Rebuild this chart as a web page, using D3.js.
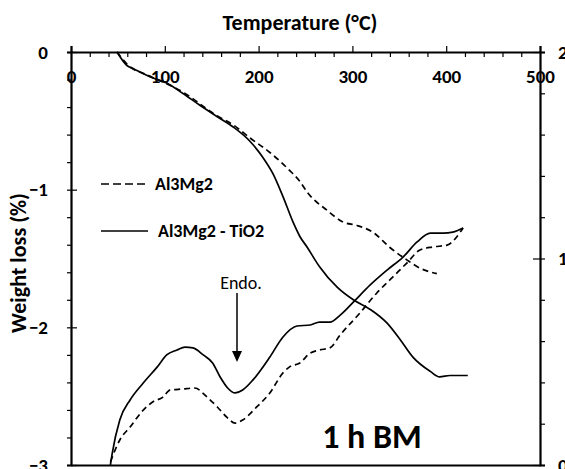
<!DOCTYPE html>
<html>
<head>
<meta charset="utf-8">
<script src="https://cdn.jsdelivr.net/npm/d3@7"></script>
<style>
  body { margin: 0; background: #fff; }
  svg text { font-family: Carlito, Calibri, Lato, sans-serif; fill: #000; }
</style>
</head>
<body>
<div id="chart_svg"></div>
<script>
// temperature (°C) and weight loss (%) - left axis
var tgTempTiO2 = [49, 60, 66, 84, 102, 119, 137, 156, 173, 191, 205, 215, 226, 237, 244, 252, 262, 265, 284, 301, 319, 337, 351, 365, 383, 393, 404, 423]
var tgTiO2 = [0, -0.10, -0.12, -0.18, -0.225, -0.30, -0.385, -0.47, -0.545, -0.65, -0.77, -0.88, -1.05, -1.24, -1.34, -1.42, -1.53, -1.56, -1.71, -1.80, -1.87, -1.97, -2.09, -2.22, -2.32, -2.36, -2.35, -2.35]

var tgTempPure = [49, 60, 84, 119, 156, 173, 191, 212, 233, 244, 252, 273, 290, 305, 322, 340, 358, 372, 390]
var tgPure = [0, -0.09, -0.175, -0.29, -0.465, -0.53, -0.625, -0.73, -0.86, -0.94, -1.02, -1.15, -1.235, -1.26, -1.31, -1.42, -1.51, -1.57, -1.61]

// DSC signal (a.u.) - right axis
var dscTempTiO2 = [42, 44, 52, 63, 77, 92, 102, 113, 121.5, 130, 141, 151, 159, 167, 175, 183, 194, 212, 226, 241, 255, 265, 276, 287, 301, 319, 337, 354, 369, 383, 397, 407, 418]
var dscTiO2 = [0, 0.058, 0.218, 0.315, 0.397, 0.475, 0.533, 0.557, 0.571, 0.567, 0.533, 0.494, 0.426, 0.373, 0.349, 0.363, 0.412, 0.523, 0.62, 0.673, 0.678, 0.692, 0.692, 0.726, 0.789, 0.872, 0.944, 1.007, 1.08, 1.123, 1.123, 1.128, 1.148]

var dscTempPure = [42, 52, 63, 77, 87, 98, 105.5, 119, 132, 145, 156, 166, 175, 183, 198, 212, 226, 233, 244, 255, 265, 276, 287, 308, 326, 343, 358, 372, 386, 401, 415, 418]
var dscPure = [0.015, 0.121, 0.184, 0.266, 0.305, 0.329, 0.363, 0.368, 0.373, 0.329, 0.281, 0.232, 0.203, 0.218, 0.281, 0.349, 0.446, 0.475, 0.494, 0.542, 0.557, 0.567, 0.63, 0.736, 0.833, 0.910, 0.978, 1.041, 1.056, 1.065, 1.128, 1.148]

var xMajor = [0, 100, 200, 300, 400, 500]
var yLeftMajor = [0, -1, -2, -3]
var yRightMajor = [0, 1, 2]
var legendNames = ["Al3Mg2", "Al3Mg2 - TiO2"]

function zip(xs, ys) {
    return xs.map(function(t, i) { return {x: t, y: ys[i]} })
}

const totalWidth = 565
const totalHeight = 469
var margin = {top: 52, right: 25, bottom: 4, left: 71},
    width = totalWidth - margin.left - margin.right,
    height = totalHeight - margin.top - margin.bottom;

var svg = d3.select("#chart_svg")
  .append("svg")
  .attr("width", totalWidth)
  .attr("height", totalHeight)

var g = svg.append("g")
  .attr("transform", "translate(" + margin.left + "," + margin.top + ")");

var x = d3.scaleLinear().domain([0, 500]).range([0, width]);
var yL = d3.scaleLinear().domain([-3, 0]).range([height, 0]);
var yR = d3.scaleLinear().domain([0, 2]).range([height, 0]);

var minorX = d3.range(0, 501, 20).filter(function(d) { return d % 100 !== 0 })
var minorY = d3.range(0, 16).map(function(i) { return -i * 0.2 }).filter(function(d) { return Math.abs(d - Math.round(d)) > 1e-6 })
var minorR = d3.range(0, 11).map(function(i) { return i * 0.2 }).filter(function(d) { return Math.abs(d - Math.round(d)) > 1e-6 })

function styleAxis(sel) {
    sel.selectAll("path").attr("stroke", "#000").attr("stroke-width", 2.2)
    sel.selectAll("line").attr("stroke", "#000").attr("stroke-width", 1.2)
}

// bottom border
g.append("g").attr("transform", "translate(0," + height + ")")
  .call(d3.axisBottom(x).tickValues([]).tickSizeOuter(0)).call(styleAxis)

// top axis: major ticks up, minor ticks down, labels inside
g.append("g").call(d3.axisTop(x).tickValues(xMajor).tickSizeOuter(0).tickSize(6).tickFormat("")).call(styleAxis)
g.append("g").call(d3.axisBottom(x).tickValues(minorX).tickSize(5).tickFormat("")).call(styleAxis)
  .select(".domain").remove()
var xl = g.append("g").call(d3.axisBottom(x).tickValues(xMajor).tickSize(0).tickPadding(18).tickFormat(d3.format("d")))
xl.select(".domain").remove()
xl.selectAll("text").style("font-size", "19px").style("font-weight", "bold")

// left axis
g.append("g").call(d3.axisLeft(yL).tickValues(yLeftMajor).tickSizeOuter(0).tickSize(4).tickPadding(19).tickFormat(d3.format("d")))
  .call(styleAxis)
  .selectAll("text").style("font-size", "19px").style("font-weight", "bold")
g.append("g").call(d3.axisRight(yL).tickValues(yLeftMajor).tickSize(6).tickFormat("")).call(styleAxis).select(".domain").remove()
g.append("g").call(d3.axisLeft(yL).tickValues(minorY).tickSize(4).tickFormat("")).call(styleAxis).select(".domain").remove()

// right axis
var ra = g.append("g").attr("transform", "translate(" + width + ",0)")
ra.call(d3.axisRight(yR).tickValues(yRightMajor).tickSizeOuter(0).tickSize(5).tickPadding(13).tickFormat(d3.format("d")))
  .call(styleAxis)
  .selectAll("text").style("font-size", "19px").style("font-weight", "bold")
ra.append("g").call(d3.axisLeft(yR).tickValues(yRightMajor).tickSize(7).tickFormat("")).call(styleAxis).select(".domain").remove()
ra.append("g").call(d3.axisRight(yR).tickValues(minorR).tickSize(5).tickFormat("")).call(styleAxis).select(".domain").remove()

// curves
var lineL = d3.line().curve(d3.curveMonotoneX)
  .x(function(d) { return x(d.x) }).y(function(d) { return yL(d.y) })
var lineR = d3.line().curve(d3.curveMonotoneX)
  .x(function(d) { return x(d.x) }).y(function(d) { return yR(d.y) })

var series = [
    {data: zip(tgTempPure, tgPure), line: lineL, dash: "6,4"},
    {data: zip(tgTempTiO2, tgTiO2), line: lineL, dash: null},
    {data: zip(dscTempPure, dscPure), line: lineR, dash: "6,4"},
    {data: zip(dscTempTiO2, dscTiO2), line: lineR, dash: null}
]
series.forEach(function(s) {
    g.append("path")
      .datum(s.data)
      .attr("fill", "none")
      .attr("stroke", "#000")
      .attr("stroke-width", 1.7)
      .attr("stroke-dasharray", s.dash)
      .attr("d", s.line)
})

// legend
var legend = svg.append("g")
legendNames.forEach(function(name, i) {
    var ly = 184 + i * 47
    legend.append("line")
      .attr("x1", 101).attr("x2", 148).attr("y1", ly).attr("y2", ly)
      .attr("stroke", "#000").attr("stroke-width", 1.6)
      .attr("stroke-dasharray", i === 0 ? "8,4" : null)
    legend.append("text")
      .attr("x", i === 0 ? 155 : 158).attr("y", ly).attr("dy", "0.35em")
      .style("font-size", "18px").style("font-weight", "bold")
      .text(name)
})

// annotation
svg.append("text").attr("x", 241).attr("y", 289).attr("text-anchor", "middle")
  .style("font-size", "18px").text("Endo.")
svg.append("line").attr("x1", 237).attr("x2", 237).attr("y1", 293).attr("y2", 352)
  .attr("stroke", "#000").attr("stroke-width", 1.5)
svg.append("path").attr("d", "M232,351 L242,351 L237,362 Z").attr("fill", "#000")

svg.append("text").attr("x", 372).attr("y", 448).attr("text-anchor", "middle")
  .style("font-size", "34px").style("font-weight", "bold").text("1 h BM")

// titles
svg.append("text").attr("x", 300).attr("y", 30).attr("text-anchor", "middle")
  .style("font-size", "22px").style("font-weight", "bold").text("Temperature (°C)")
svg.append("text").attr("transform", "translate(26,263) rotate(-90)").attr("text-anchor", "middle")
  .style("font-size", "22px").style("font-weight", "bold").text("Weight loss (%)")
</script>
</body>
</html>
